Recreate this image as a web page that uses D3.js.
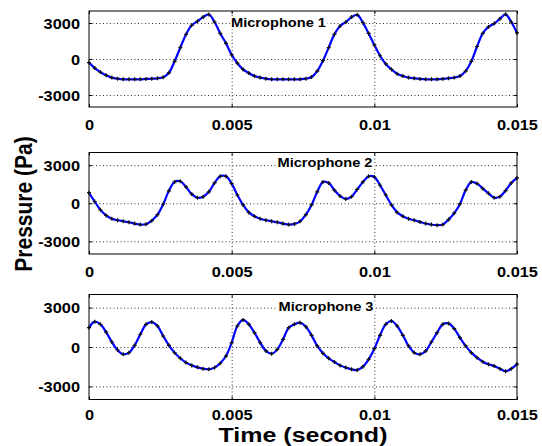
<!DOCTYPE html>
<html>
<head>
<meta charset="utf-8">
<script src="https://cdn.jsdelivr.net/npm/d3@7"></script>
<style>
  html, body { margin: 0; padding: 0; background: #fff; }
  svg { display: block; }
  text { font-family: "Liberation Sans", Arial, sans-serif; font-weight: bold; fill: #000; }
</style>
</head>
<body>
<script>
// ---------------- data ----------------
const timeSec = [
  0.0000, 0.0002, 0.0004, 0.0006, 0.0008, 0.0010, 0.0012, 0.0014, 0.0016, 0.0018,
  0.0020, 0.0022, 0.0024, 0.0026, 0.0028, 0.0030, 0.0032, 0.0034, 0.0036, 0.0038,
  0.0040, 0.0042, 0.0044, 0.0046, 0.0048, 0.0050, 0.0052, 0.0054, 0.0056, 0.0058,
  0.0060, 0.0062, 0.0064, 0.0066, 0.0068, 0.0070, 0.0072, 0.0074, 0.0076, 0.0078,
  0.0080, 0.0082, 0.0084, 0.0086, 0.0088, 0.0090, 0.0092, 0.0094, 0.0096, 0.0098,
  0.0100, 0.0102, 0.0104, 0.0106, 0.0108, 0.0110, 0.0112, 0.0114, 0.0116, 0.0118,
  0.0120, 0.0122, 0.0124, 0.0126, 0.0128, 0.0130, 0.0132, 0.0134, 0.0136, 0.0138,
  0.0140, 0.0142, 0.0144, 0.0146, 0.0148, 0.0150
];

const mic1 = [
  -300, -760, -1090, -1360, -1550, -1640, -1690, -1690, -1690, -1690,
  -1660, -1640, -1610, -1530, -1150, -190, 950, 2050, 2810, 3140,
  3490, 3710, 3080, 2130, 1310, 350, -350, -870, -1170, -1420,
  -1550, -1640, -1690, -1690, -1690, -1690, -1690, -1690, -1640, -1500,
  -1010, -140, 950, 2050, 2750, 3080, 3490, 3680, 3030, 2130,
  1170, 270, -410, -870, -1230, -1420, -1550, -1610, -1660, -1690,
  -1690, -1690, -1660, -1610, -1550, -1420, -1010, -190, 1040, 2130,
  2670, 2950, 3350, 3720, 3080, 2170
];

const mic2 = [
  830, 130, -520, -960, -1220, -1340, -1420, -1500, -1600, -1680,
  -1650, -1370, -900, -80, 980, 1680, 1730, 1290, 720, 440,
  520, 900, 1600, 2120, 2120, 1550, 650, -130, -720, -1030,
  -1220, -1340, -1420, -1500, -1600, -1680, -1630, -1420, -900, -130,
  900, 1680, 1600, 1030, 570, 340, 520, 1090, 1680, 2120,
  2070, 1420, 650, -130, -720, -1030, -1220, -1340, -1470, -1600,
  -1680, -1730, -1680, -1290, -780, -50, 1030, 1680, 1550, 1160,
  780, 440, 520, 1000, 1600, 2000
];

const mic3 = [
  1470, 1930, 1730, 1140, 380, -230, -560, -430, 130, 970,
  1730, 1900, 1600, 840, 130, -430, -860, -1190, -1400, -1550,
  -1650, -1700, -1570, -1240, -690, 330, 1600, 2060, 1730, 1090,
  330, -300, -510, -180, 580, 1470, 1730, 1850, 1550, 890,
  80, -480, -860, -1140, -1400, -1570, -1700, -1750, -1500, -940,
  -130, 890, 1730, 1980, 1600, 890, 80, -430, -560, -300,
  380, 1090, 1730, 1800, 1400, 710, 80, -430, -810, -1120,
  -1320, -1450, -1650, -1850, -1650, -1300
];

const panelNames = ["Microphone 1", "Microphone 2", "Microphone 3"];
const xTickValues = [0, 0.005, 0.01, 0.015];
const xTickLabels = ["0", "0.005", "0.01", "0.015"];
const yTickValues = [-3000, 0, 3000];
const yTickLabels = ["-3000", "0", "3000"];
const xDomain = [0, 0.015];
const yDomain = [-4000, 4000];
const xAxisTitle = "Time (second)";
const yAxisTitle = "Pressure (Pa)";

// ---------------- layout ----------------
const W = 542, H = 446;
const plotLeft = 89, plotRight = 517;
const panelLayout = [
  { top: 11,    bottom: 107,   labelX: 278.5, labelBase: 26.5,  tickGap: 22.5 },
  { top: 152.5, bottom: 254,   labelX: 325,   labelBase: 166.8, tickGap: 23 },
  { top: 294.5, bottom: 399.5, labelX: 326,   labelBase: 311.3, tickGap: 20.5 }
];
const SX = 1.17; // horizontal stretch of the original rendering
const seriesList = [mic1, mic2, mic3];

const svg = d3.select("body").append("svg").attr("width", W).attr("height", H);

const x = d3.scaleLinear().domain(xDomain).range([plotLeft, plotRight]);

seriesList.forEach((vals, i) => {
  const L = panelLayout[i];
  const y = d3.scaleLinear().domain(yDomain).range([L.bottom, L.top]);
  const g = svg.append("g");
  const h = L.bottom - L.top;
  const w = plotRight - plotLeft;

  g.append("rect").attr("x", plotLeft).attr("y", L.top).attr("width", w).attr("height", h)
    .attr("fill", "#fff");

  // grid lines
  const gy = g.append("g").attr("transform", `translate(${plotLeft},0)`)
    .call(d3.axisLeft(y).tickValues(yTickValues).tickSize(-w).tickFormat(""));
  gy.select(".domain").remove();
  gy.selectAll("line").attr("stroke", "#333").attr("stroke-dasharray", "1,2.5").attr("stroke-width", 1);

  const gx = g.append("g").attr("transform", `translate(0,${L.bottom})`)
    .call(d3.axisBottom(x).tickValues([0.005, 0.01]).tickSize(-h).tickFormat(""));
  gx.select(".domain").remove();
  gx.selectAll("line").attr("stroke", "#333").attr("stroke-dasharray", "1,2.5").attr("stroke-width", 1);

  // inward tick marks on all sides
  const tk = 3;
  const tl = g.append("g").attr("transform", `translate(${plotLeft},0)`)
    .call(d3.axisLeft(y).tickValues(yTickValues).tickSize(-tk).tickFormat(""));
  const tr = g.append("g").attr("transform", `translate(${plotRight},0)`)
    .call(d3.axisRight(y).tickValues(yTickValues).tickSize(-tk).tickFormat(""));
  const tb = g.append("g").attr("transform", `translate(0,${L.bottom})`)
    .call(d3.axisBottom(x).tickValues(xTickValues).tickSize(-tk).tickFormat(""));
  const tt = g.append("g").attr("transform", `translate(0,${L.top})`)
    .call(d3.axisTop(x).tickValues(xTickValues).tickSize(-tk).tickFormat(""));
  [tl, tr, tb, tt].forEach(a => { a.select(".domain").remove(); a.selectAll("line").attr("stroke", "#000"); });

  // data line
  const line = d3.line()
    .x((d, k) => x(timeSec[k]))
    .y(d => y(d))
    .curve(d3.curveCatmullRom.alpha(0.5));
  g.append("path").datum(vals).attr("d", line)
    .attr("fill", "none").attr("stroke", "#0000ff").attr("stroke-width", 2.2)
    .attr("stroke-linejoin", "round");

  // markers
  g.append("g").selectAll("path").data(vals).join("path")
    .attr("transform", (d, k) => `translate(${x(timeSec[k])},${y(d)})`)
    .attr("d", "M-2,0H2M0,-2V2")
    .attr("stroke", "#111").attr("stroke-width", 1.2).attr("fill", "none");

  // box
  g.append("rect").attr("x", plotLeft).attr("y", L.top).attr("width", w).attr("height", h)
    .attr("fill", "none").attr("stroke", "#000").attr("stroke-width", 1);

  // panel title with white background
  const tg = g.append("g").attr("transform", `translate(${L.labelX},${L.labelBase}) scale(${SX},1)`);
  const bgRect = tg.append("rect").attr("fill", "#fff");
  const tt2 = tg.append("text").attr("text-anchor", "middle").attr("font-size", 12.5)
    .text(panelNames[i]);
  const bb = tt2.node().getBBox();
  bgRect.attr("x", bb.x - 1).attr("y", bb.y + 1).attr("width", bb.width + 2).attr("height", bb.height - 1);

  // y tick labels
  const yl = g.append("g").attr("transform", `translate(${plotLeft},0)`)
    .call(d3.axisLeft(y).tickValues(yTickValues).tickSize(0).tickPadding(0)
      .tickFormat((d, k) => yTickLabels[k]));
  yl.select(".domain").remove();
  yl.selectAll("text").attr("x", 0).attr("dy", "0.36em")
    .attr("transform", `translate(-9,0) scale(${SX},1)`)
    .attr("font-size", 14).attr("font-family", "Liberation Sans, Arial, sans-serif")
    .attr("font-weight", "bold").attr("text-anchor", "end");

  // x tick labels
  const xl = g.append("g").attr("transform", `translate(0,${L.bottom})`)
    .call(d3.axisBottom(x).tickValues(xTickValues).tickSize(0).tickPadding(0)
      .tickFormat((d, k) => xTickLabels[k]));
  xl.select(".domain").remove();
  xl.selectAll("text").attr("y", 0).attr("dy", 0)
    .attr("transform", `translate(0,${L.tickGap}) scale(${SX},1)`)
    .attr("font-size", 14).attr("font-family", "Liberation Sans, Arial, sans-serif")
    .attr("font-weight", "bold").attr("text-anchor", "middle");
});

// axis titles
svg.append("text")
  .attr("transform", `translate(${(plotLeft + plotRight) / 2},441.5) scale(1.25,1)`)
  .attr("text-anchor", "middle").attr("font-size", 20).text(xAxisTitle);

svg.append("text")
  .attr("transform", `translate(32,204) scale(${SX},1) rotate(-90)`)
  .attr("text-anchor", "middle").attr("font-size", 21).text(yAxisTitle);
</script>
</body>
</html>
